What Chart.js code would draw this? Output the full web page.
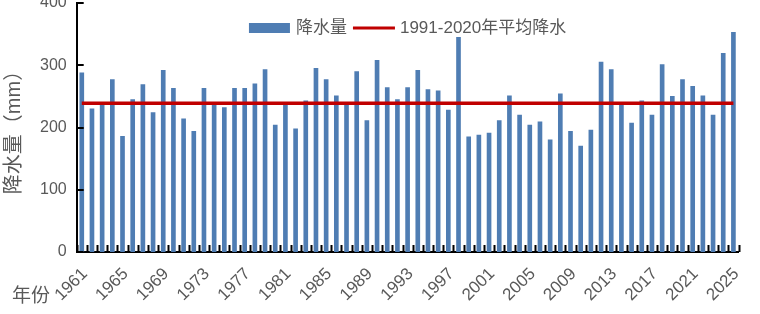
<!DOCTYPE html>
<html>
<head>
<meta charset="utf-8">
<script src="https://cdn.jsdelivr.net/npm/chart.js@4"></script>
<style>
  html, body { margin: 0; padding: 0; background: #fff; }
  #wrap { width: 760px; height: 314px; }
</style>
</head>
<body>
<div id="wrap"><canvas id="myChart" width="760" height="314"></canvas></div>
<script>
const years = []
for (let y = 1961; y <= 2025; y++) years.push(String(y))

const rain = [
  288, 230, 238, 277, 186, 245, 269, 224, 292, 263,
  214, 194, 263, 238, 232, 263, 263, 270, 293, 204,
  238, 198, 243, 295, 277, 251, 238, 290, 211, 308,
  264, 245, 264, 292, 261, 259, 228, 345, 185, 188,
  191, 211, 251, 220, 204, 209, 180, 254, 194, 170,
  196, 305, 293, 238, 207, 243, 220, 301, 250, 277,
  266, 251, 220, 319, 353
]
const normalValue = 239
const normal = years.map(() => normalValue)

const yTicks = [0, 100, 200, 300, 400]

const fontFam = "'Liberation Sans', 'Noto Sans CJK SC', sans-serif"
const grey = '#595959'
const barColor = '#4f7db3'
const lineColor = '#c00000'

// inward tick marks on both axes, "年份" label and the legend inside the plot
const extras = {
  id: 'extras',
  afterDraw(chart) {
    const { ctx, chartArea, scales } = chart
    const x = scales.x, y = scales.y
    ctx.save()
    ctx.strokeStyle = '#000'
    ctx.lineWidth = 2
    ctx.beginPath()
    const half = (x.getPixelForValue(1) - x.getPixelForValue(0)) / 2
    for (let i = 0; i <= years.length; i++) {
      const px = Math.round(x.getPixelForValue(i) - half) + 0.5
      ctx.moveTo(px, chartArea.bottom)
      ctx.lineTo(px, chartArea.bottom - 7)
    }
    yTicks.forEach(v => {
      const py = Math.round(y.getPixelForValue(v))
      ctx.moveTo(chartArea.left, py)
      ctx.lineTo(chartArea.left + 7, py)
    })
    ctx.stroke()

    ctx.fillStyle = grey
    ctx.font = '19px ' + fontFam
    ctx.textBaseline = 'middle'
    ctx.fillText('年份', 12, chartArea.bottom + 45)

    // legend
    const ds = chart.data.datasets
    ctx.font = '17px ' + fontFam
    const w0 = ctx.measureText(ds[0].label).width
    const w1 = ctx.measureText(ds[1].label).width
    const total = 41 + 6 + w0 + 6 + 42 + 5 + w1
    let lx = (chartArea.left + chartArea.right) / 2 - total / 2
    const ly = 28
    ctx.fillStyle = barColor
    ctx.fillRect(lx, ly - 5, 41, 10)
    lx += 47
    ctx.fillStyle = grey
    ctx.fillText(ds[0].label, lx, ly)
    lx += w0 + 6
    ctx.strokeStyle = lineColor
    ctx.lineWidth = 3
    ctx.beginPath()
    ctx.moveTo(lx, ly)
    ctx.lineTo(lx + 42, ly)
    ctx.stroke()
    lx += 47
    ctx.fillText(ds[1].label, lx, ly)
    ctx.restore()
  }
}

const ctx = document.getElementById('myChart').getContext('2d')
const myChart = new Chart(ctx, {
  data: {
    labels: years,
    datasets: [{
      type: 'bar',
      label: '降水量',
      data: rain,
      backgroundColor: barColor,
      barThickness: 4,
      order: 2
    }, {
      type: 'line',
      label: '1991-2020年平均降水',
      data: normal,
      borderColor: lineColor,
      backgroundColor: lineColor,
      borderWidth: 3.5,
      pointRadius: 0,
      order: 1
    }]
  },
  options: {
    responsive: false,
    animation: false,
    layout: { padding: { left: 2, right: 21, top: 3, bottom: 0 } },
    plugins: {
      tooltip: { enabled: false },
      legend: { display: false }
    },
    scales: {
      x: {
        offset: true,
        afterFit: scale => { scale.height = 62 },
        grid: { display: false, drawTicks: false },
        border: { display: true, color: '#000', width: 2 },
        ticks: {
          autoSkip: false,
          maxRotation: 45,
          minRotation: 45,
          padding: 12,
          labelOffset: 3,
          color: grey,
          font: { family: fontFam, size: 17 },
          callback: (v, i) => (i % 4 === 0 ? years[i] : '')
        }
      },
      y: {
        min: 0,
        max: 400,
        afterFit: scale => { scale.paddingTop = 0 },
        grid: { display: false, drawTicks: false },
        border: { display: true, color: '#000', width: 2 },
        ticks: {
          stepSize: 100,
          padding: 10,
          color: grey,
          font: { family: fontFam, size: 16 }
        },
        title: {
          display: true,
          text: '降水量（mm）',
          color: grey,
          font: { family: fontFam, size: 20 },
          padding: { top: 0, bottom: 4 }
        }
      }
    }
  },
  plugins: [extras]
})
</script>
</body>
</html>
